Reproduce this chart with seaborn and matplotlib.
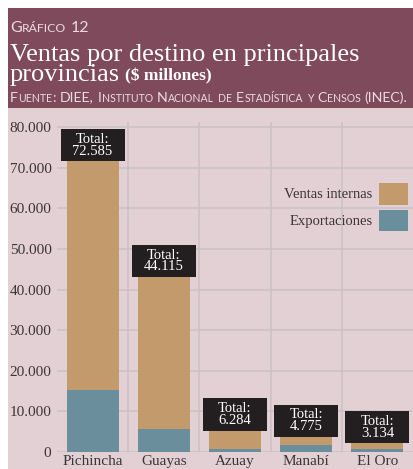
import matplotlib
matplotlib.use("Agg")
import matplotlib.pyplot as plt
import seaborn as sns
import pandas as pd
from matplotlib.patches import Rectangle, Patch

# datos (millones de dólares)
provincias = ["Pichincha", "Guayas", "Azuay", "Manabí", "El Oro"]
totales = [72585, 44115, 6284, 4775, 3134]
exportaciones = [15200, 5600, 700, 1700, 700]
yticks = list(range(0, 80001, 10000))

# colores
C_BAND = "#7f4b5c"
C_BG = "#e3d0d5"
C_INT = "#c39a6b"
C_EXP = "#6b8e9d"
C_GRID = "#c9c1c5"
C_BOX = "#231f20"
C_TXT = "#3b3537"
C_HEAD = "#eadbe0"

W, H, DPI = 413, 469, 100
SERIF = "Liberation Serif"
SANS = "Lato"

sns.set_style("white")
plt.rcParams["font.family"] = [SERIF, "DejaVu Serif"]

fig = plt.figure(figsize=(W / DPI, H / DPI), dpi=DPI, facecolor="white")

# fondo: banda del título y zona del gráfico
fig.patches.append(Rectangle((8 / W, 1 - 108 / H), 1, 100 / H, transform=fig.transFigure,
                             facecolor=C_BAND, edgecolor="none", zorder=-2))
fig.patches.append(Rectangle((8 / W, 0), 1, 1 - 108 / H, transform=fig.transFigure,
                             facecolor=C_BG, edgecolor="none", zorder=-2))

renderer = fig.canvas.get_renderer()


def put_text(x_px, y_px, s, **kw):
    t = fig.text(x_px / W, 1 - y_px / H, s, va="baseline", ha="left", **kw)
    return t, t.get_window_extent(renderer).width


def small_caps(x_px, y_px, s, big, small, **kw):
    # versalitas a mano: minúsculas en mayúscula más pequeña
    runs = []
    for ch in s:
        low = ch.islower()
        if runs and runs[-1][1] == low and ch != " " and runs[-1][0][-1] != " ":
            runs[-1][0] += ch.upper()
        else:
            runs.append([ch.upper(), low])
    cur = x_px
    for txt, low in runs:
        if txt == " ":
            cur += big * 0.26 * DPI / 72
            continue
        _, w = put_text(cur, y_px, txt, fontsize=small if low else big, **kw)
        cur += w + 0.3


small_caps(10, 31.5, "Gráfico 12", 11.5, 8.8, color=C_HEAD, family=[SANS, "DejaVu Sans"])
put_text(10, 60.5, "Ventas por destino en principales", fontsize=19.0, color="white")
_, w = put_text(10, 80.5, "provincias", fontsize=19.0, color="white")
put_text(10 + w + 5, 80.5, "($ millones)", fontsize=12.5, color="white", weight="bold")
small_caps(10, 101.5, "Fuente: DIEE, Instituto Nacional de Estadística y Censos (INEC).", 10.15, 7.6,
           color=C_HEAD, family=[SANS, "DejaVu Sans"])

# ejes
ax = fig.add_axes([57 / W, 1 - 452 / H, 1 - 57 / W, (452 - 122) / H])
ax.set_facecolor("none")

df = pd.DataFrame({"provincia": provincias, "total": totales, "exportaciones": exportaciones})
sns.barplot(data=df, x="provincia", y="total", color=C_INT, saturation=1, width=0.73,
            errorbar=None, ax=ax, zorder=2, edgecolor="none", linewidth=0)
sns.barplot(data=df, x="provincia", y="exportaciones", color=C_EXP, saturation=1, width=0.73,
            errorbar=None, ax=ax, zorder=3, edgecolor="none", linewidth=0)

ax.set_xlim(-0.5, len(provincias) - 0.5)
ax.set_ylim(0, 81300)
ax.set_yticks(yticks)
ax.set_yticklabels([f"{v:,}".replace(",", ".") for v in yticks])
ax.set_xticks(range(len(provincias)))
ax.set_xticklabels(provincias)
ax.set_xticks([i + 0.5 for i in range(len(provincias) - 1)], minor=True)
ax.grid(axis="y", which="major", color=C_GRID, linewidth=1.1, zorder=0)
ax.grid(axis="x", which="minor", color=C_GRID, linewidth=1.1, zorder=0)
ax.grid(axis="x", which="major", visible=False)
ax.set_axisbelow(True)
ax.tick_params(axis="both", which="both", length=0, labelsize=11, labelcolor=C_TXT)
ax.tick_params(axis="y", pad=4)
ax.tick_params(axis="x", pad=2.5)
for sp in ax.spines.values():
    sp.set_visible(False)
ax.set_xlabel("")
ax.set_ylabel("")

# cajas con el total
box_h, box_drop = 7900, 1000
for i, tot in enumerate(totales):
    ax.bar(i, box_h, bottom=tot - box_drop, width=0.9, color=C_BOX, linewidth=0, zorder=4)
    ax.text(i, tot - box_drop + box_h / 2, "Total:\n" + f"{tot:,}".replace(",", "."),
            ha="center", va="center", color="white", fontsize=10.5, linespacing=0.85, zorder=5)

# leyenda
handles = [Patch(facecolor=C_INT, edgecolor="none", label="Ventas internas"),
           Patch(facecolor=C_EXP, edgecolor="none", label="Exportaciones")]
fig.legend(handles=handles, loc="upper right", bbox_to_anchor=(408 / W, 1 - 183 / H),
           frameon=False, markerfirst=False, fontsize=10.5, labelcolor=C_TXT,
           handlelength=2.0, handleheight=1.9, handletextpad=0.45, labelspacing=0.35,
           borderpad=0, borderaxespad=0)

fig.savefig("out.png", dpi=DPI)
